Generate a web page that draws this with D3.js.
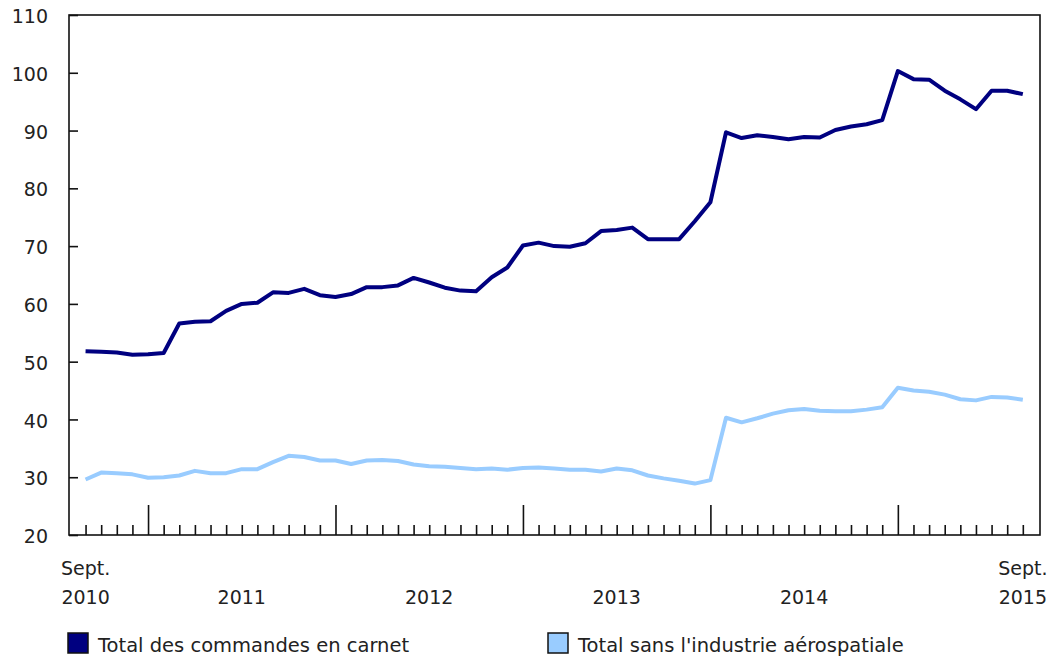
<!DOCTYPE html>
<html>
<head>
<meta charset="utf-8">
<script src="https://cdn.jsdelivr.net/npm/d3@7"></script>
<style>
  body { margin: 0; background: #fff; }
  svg { font-family: "DejaVu Sans", Verdana, sans-serif; }
  .tick text { font-size: 19px; fill: #222; font-family: "DejaVu Sans", Verdana, sans-serif; }
</style>
</head>
<body>
<svg width="1053" height="658"></svg>
<script>
// Monthly data, Sept. 2010 to Sept. 2015 (61 months)
const months = d3.range(61).map((i) => new Date(2010, 8 + i, 1));

const totalCarnet = [
  51.8, 51.7, 51.6, 51.2, 51.3, 51.5, 56.6, 56.9, 57.0, 58.8,
  60.0, 60.2, 62.0, 61.9, 62.6, 61.5, 61.2, 61.7, 62.9, 62.9,
  63.2, 64.5, 63.7, 62.8, 62.3, 62.2, 64.6, 66.3, 70.1, 70.6,
  70.0, 69.9, 70.5, 72.6, 72.8, 73.2, 71.2, 71.2, 71.2, 74.3,
  77.6, 89.7, 88.7, 89.2, 88.9, 88.5, 88.9, 88.8, 90.1, 90.7,
  91.1, 91.8, 100.3, 98.9, 98.8, 96.9, 95.4, 93.7, 96.9, 96.9,
  96.3
];

const totalSansAero = [
  29.6, 30.8, 30.7, 30.5, 29.9, 30.0, 30.3, 31.1, 30.7, 30.7,
  31.4, 31.4, 32.6, 33.7, 33.5, 32.9, 32.9, 32.3, 32.9, 33.0,
  32.8, 32.2, 31.9, 31.8, 31.6, 31.4, 31.5, 31.3, 31.6, 31.7,
  31.5, 31.3, 31.3, 31.0, 31.5, 31.2, 30.3, 29.8, 29.4, 28.9,
  29.5, 40.3, 39.5, 40.2, 41.0, 41.6, 41.8, 41.5, 41.4, 41.4,
  41.7, 42.1, 45.5, 45.0, 44.8, 44.3, 43.5, 43.3, 43.9, 43.8,
  43.4
];

const yTicks = [20, 30, 40, 50, 60, 70, 80, 90, 100, 110];
const yearLabels = ["2011", "2012", "2013", "2014"];
const seriesNames = ["Total des commandes en carnet", "Total sans l'industrie aérospatiale"];
const colors = ["#000080", "#99ccff"];

const svg = d3.select("svg");

const frame = { left: 69, right: 1040, top: 15, bottom: 535 };

// x positions are month indexes; frame runs a little past the first/last month
const xScale = d3.scaleLinear().domain([-1.06, 61.1]).range([frame.left, frame.right]);
const yScale = d3.scaleLinear().domain([20, 110]).range([frame.bottom, frame.top]);

// frame
svg.append("rect")
  .attr("x", frame.left).attr("y", frame.top)
  .attr("width", frame.right - frame.left).attr("height", frame.bottom - frame.top)
  .attr("fill", "none").attr("stroke", "#111").attr("stroke-width", 1.6);

// y axis, ticks pointing into the plot
const yAxisG = svg.append("g")
  .attr("transform", `translate(${frame.left},0)`)
  .call(d3.axisLeft(yScale).tickValues(yTicks).tickSize(-9).tickPadding(21));
yAxisG.select(".domain").remove();
yAxisG.selectAll(".tick line").attr("stroke", "#111").attr("stroke-width", 1.6);
yAxisG.selectAll(".tick text").attr("dy", "0.4em");

// x axis: minor tick every month, long tick at each January
const idx = d3.range(61);
const janIdx = idx.filter((i) => months[i].getMonth() === 0);

const minorG = svg.append("g")
  .attr("transform", `translate(0,${frame.bottom})`)
  .call(d3.axisBottom(xScale).tickValues(idx.filter((i) => !janIdx.includes(i))).tickSize(-10).tickFormat(""));
const majorG = svg.append("g")
  .attr("transform", `translate(0,${frame.bottom})`)
  .call(d3.axisBottom(xScale).tickValues(janIdx).tickSize(-30).tickFormat(""));
[minorG, majorG].forEach((g) => {
  g.select(".domain").remove();
  g.selectAll(".tick line").attr("stroke", "#111").attr("stroke-width", 1.6);
});

// x labels
const labelG = svg.append("g").attr("font-size", 19).attr("fill", "#222").attr("text-anchor", "middle");
labelG.append("text").attr("x", xScale(0)).attr("y", 575).text("Sept.");
labelG.append("text").attr("x", xScale(0)).attr("y", 604).text("2010");
yearLabels.forEach((yr, k) => {
  labelG.append("text").attr("x", xScale(10 + 12 * k)).attr("y", 604).text(yr);
});
labelG.append("text").attr("x", xScale(60)).attr("y", 575).text("Sept.");
labelG.append("text").attr("x", xScale(60)).attr("y", 604).text("2015");

// lines
const line = d3.line()
  .x((d, i) => xScale(i))
  .y((d) => yScale(d));

[totalCarnet, totalSansAero].forEach((s, k) => {
  svg.append("path")
    .datum(s)
    .attr("fill", "none")
    .attr("stroke", colors[k])
    .attr("stroke-width", 4)
    .attr("stroke-linejoin", "round")
    .attr("d", line);
});

// legend
const legendX = [68, 548];
seriesNames.forEach((name, k) => {
  const g = svg.append("g").attr("transform", `translate(${legendX[k]},633)`);
  g.append("rect").attr("width", 20).attr("height", 20)
    .attr("fill", colors[k]).attr("stroke", "#111").attr("stroke-width", 1.5);
  g.append("text").attr("x", 30).attr("y", 19)
    .attr("font-size", 19.5).attr("fill", "#222").text(name);
});
</script>
</body>
</html>
